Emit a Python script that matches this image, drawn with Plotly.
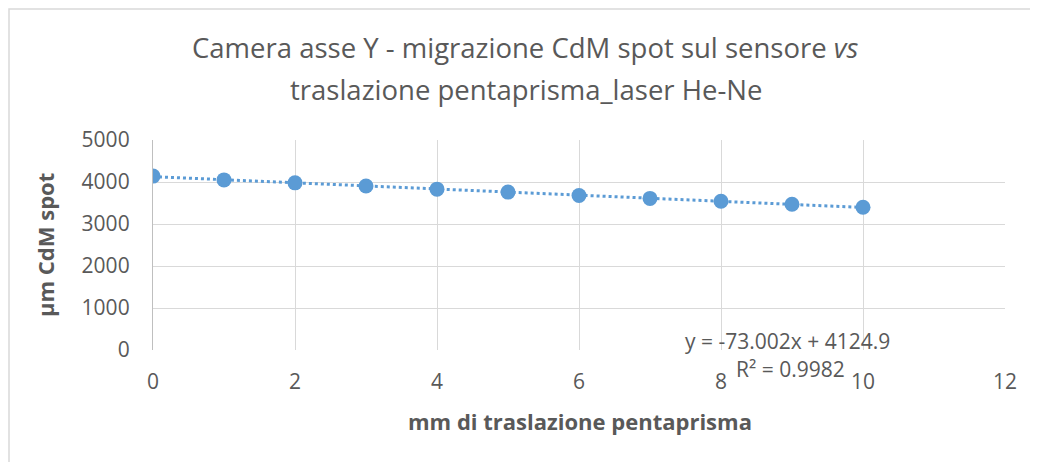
import numpy as np
import plotly.graph_objects as go

# Data
x_mm = [0, 1, 2, 3, 4, 5, 6, 7, 8, 9, 10]
y_um = [4140, 4050, 3980, 3905, 3830, 3760, 3680, 3610, 3540, 3470, 3400]
x_ticks = [0, 2, 4, 6, 8, 10, 12]
y_ticks = [0, 1000, 2000, 3000, 4000, 5000]
trend_eq = "y = -73.002x + 4124.9"
trend_r2 = "R² = 0.9982"

OFF = 8  # page body margin
W, H = 1038 - OFF, 462 - OFF
L, T = 153 - OFF, 140 - OFF
R = W - (1005 - OFF)
B = H - (350 - OFF)
pw, ph = W - L - R, H - T - B

def px(p):
    return (p - OFF - L) / pw

def py(p):
    return (H - B - (p - OFF)) / ph

FONT = "Open Sans"
GREY = "#595959"
BLUE = "#5B9BD5"

slope, intercept = np.polyfit(x_mm, y_um, 1)
tx = [min(x_mm), max(x_mm)]
ty = [slope * v + intercept for v in tx]

fig = go.Figure()
fig.add_trace(go.Scatter(x=tx, y=ty, mode="lines",
                         line=dict(color=BLUE, width=3, dash="dot"),
                         hoverinfo="skip", showlegend=False))
fig.add_trace(go.Scatter(x=x_mm, y=y_um, mode="markers",
                         marker=dict(color=BLUE, size=15),
                         showlegend=False))

fig.update_layout(
    width=W, height=H,
    margin=dict(l=L, r=R, t=T, b=B),
    paper_bgcolor="white", plot_bgcolor="white",
    font=dict(family=FONT, color=GREY),
    xaxis=dict(range=[0, 12], tickvals=x_ticks, showgrid=True,
               gridcolor="#d9d9d9", gridwidth=1.3, zeroline=False,
               showline=False, tickfont=dict(size=21, color=GREY),
               ticks="", ticklabelstandoff=17),
    yaxis=dict(range=[0, 5000], tickvals=y_ticks, showgrid=True,
               gridcolor="#d9d9d9", gridwidth=1.3, zeroline=False,
               showline=True, linecolor="#bfbfbf", linewidth=1.3,
               tickfont=dict(size=21, color=GREY),
               ticks="", ticklabelstandoff=18),
)

anns = [
    dict(text="Camera asse Y - migrazione CdM spot sul sensore <i>vs</i>",
         x=px(525), y=py(47), size=27.5),
    dict(text="traslazione pentaprisma_laser He-Ne",
         x=px(526), y=py(89), size=27.5),
    dict(text="<b>mm di traslazione pentaprisma</b>",
         x=px(580), y=py(421), size=22),
]
for a in anns:
    fig.add_annotation(text=a["text"], x=a["x"], y=a["y"], xref="paper",
                       yref="paper", showarrow=False, xanchor="center",
                       yanchor="middle", font=dict(size=a["size"], color=GREY,
                                                   family=FONT))
fig.add_annotation(text="<b>µm CdM spot</b>", x=px(45), y=py(245),
                   xref="paper", yref="paper", showarrow=False, textangle=-90,
                   xanchor="center", yanchor="middle",
                   font=dict(size=22, color=GREY, family=FONT))
fig.add_annotation(text=trend_eq, x=px(787), y=py(341), xref="paper",
                   yref="paper", showarrow=False, xanchor="center",
                   yanchor="middle", font=dict(size=21, color=GREY, family=FONT))
fig.add_annotation(text=trend_r2, x=px(790), y=py(369), xref="paper",
                   yref="paper", showarrow=False, xanchor="center",
                   yanchor="middle", font=dict(size=21, color=GREY, family=FONT))

fig.add_shape(type="rect", xref="paper", yref="paper",
              x0=px(9), y0=py(9), x1=px(1045), y1=py(470),
              line=dict(color="#d9d9d9", width=1.5), layer="below")

fig.write_html("out.html")
